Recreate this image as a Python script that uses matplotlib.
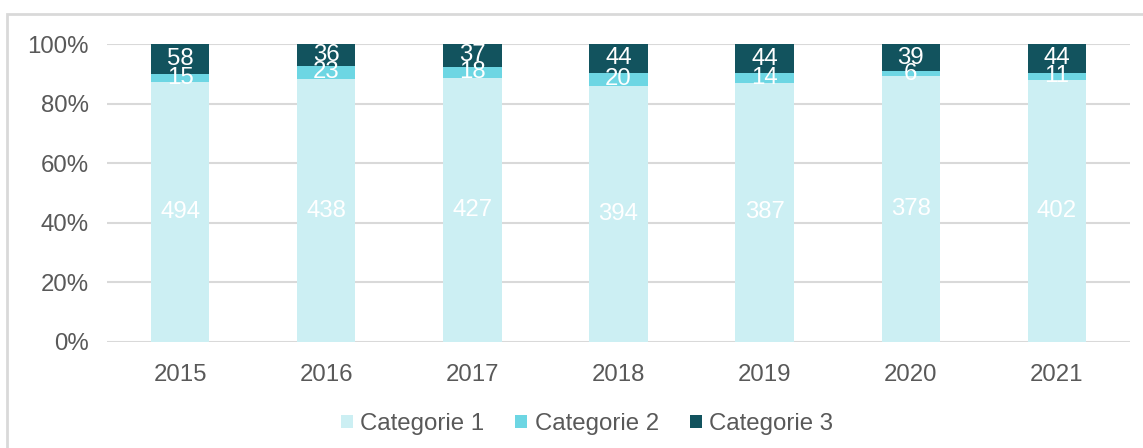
import matplotlib
matplotlib.use("Agg")
import matplotlib.pyplot as plt
from matplotlib.patches import Rectangle
import numpy as np

years = ["2015", "2016", "2017", "2018", "2019", "2020", "2021"]
cat1 = [494, 438, 427, 394, 387, 378, 402]
cat2 = [15, 23, 18, 20, 14, 6, 11]
cat3 = [58, 36, 37, 44, 44, 39, 44]
series_names = ["Categorie 1", "Categorie 2", "Categorie 3"]
colors = ["#CCEFF3", "#6DD6E3", "#12535E"]
yticks = [0, 0.2, 0.4, 0.6, 0.8, 1.0]
ytick_labels = ["0%", "20%", "40%", "60%", "80%", "100%"]

plt.rcParams["font.family"] = ["Liberation Sans", "DejaVu Sans"]

W, H = 1143, 448
fig = plt.figure(figsize=(W / 100, H / 100), dpi=100)
ax = fig.add_axes([107 / W, 1 - 342 / H, (1130 - 107) / W, (342 - 44) / H])

data = np.array([cat1, cat2, cat3], dtype=float)
totals = data.sum(axis=0)
shares = data / totals
x = np.arange(len(years))
bottom = np.zeros(len(years))
fs = 17.3
for i in range(3):
    ax.bar(x, shares[i], 0.4, bottom=bottom, color=colors[i],
           label=series_names[i], zorder=3, linewidth=0)
    for j in range(len(years)):
        ax.text(x[j], bottom[j] + shares[i][j] / 2, str(int(data[i][j])),
                ha="center", va="center", color="white", fontsize=fs, zorder=4)
    bottom += shares[i]

ax.set_xlim(-0.5, len(years) - 0.5)
ax.set_ylim(0, 1)
ax.set_yticks(yticks)
ax.set_yticklabels(ytick_labels)
ax.set_xticks(x)
ax.set_xticklabels(years)
ax.grid(axis="y", color="#D9D9D9", linewidth=1.5, zorder=0)
for s in ax.spines.values():
    s.set_visible(False)
ax.tick_params(axis="both", length=0, labelsize=fs, colors="#595959")
ax.tick_params(axis="y", pad=13)
ax.tick_params(axis="x", pad=16)

leg = fig.legend(loc="center", bbox_to_anchor=(587 / W, 1 - 424 / H), ncol=3,
                 frameon=False, fontsize=fs, handlelength=0.5, handleheight=0.5,
                 handletextpad=0.3, columnspacing=1.3)
for t in leg.get_texts():
    t.set_color("#595959")

frame = Rectangle((7 / W, -0.05), 1.1, 1 - 14 / H + 0.05, transform=fig.transFigure,
                  fill=False, edgecolor="#D9D9D9", linewidth=2, clip_on=False)
fig.patches.append(frame)

fig.savefig("out.png", dpi=100)
